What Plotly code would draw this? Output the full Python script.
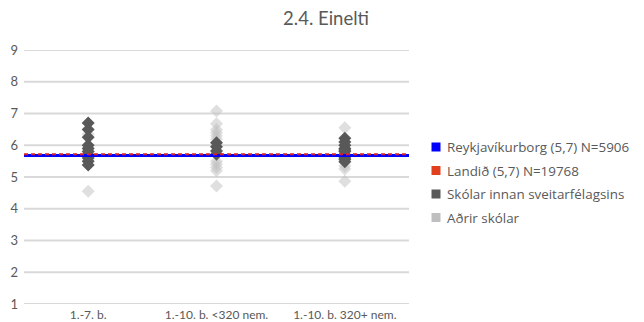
import plotly.graph_objects as go

categories = ["1.-7. b.", "1.-10. b. <320 nem.", "1.-10. b. 320+ nem."]

# Skólar innan sveitarfélagsins (dark grey)
own_cat = [0]*10 + [1]*4 + [2]*11
own_val = [6.7, 6.5, 6.25, 6.0, 5.9, 5.8, 5.7, 5.6, 5.5, 5.38,
           6.08, 5.95, 5.82, 5.72,
           6.22, 6.1, 6.0, 5.9, 5.85, 5.8, 5.7, 5.65, 5.6, 5.55, 5.48]

# Aðrir skólar (light grey)
oth_cat = [0]*3 + [1]*11 + [2]*4
oth_val = [4.55, 6.35, 5.8,
           7.08, 6.68, 6.5, 6.4, 6.3, 6.2, 5.5, 5.4, 5.3, 5.2, 4.72,
           6.55, 5.35, 5.25, 4.87]

reykjavik = 5.68
landid = 5.72

legend_names = ["Reykjavíkurborg (5,7) N=5906", "Landið (5,7) N=19768",
                "Skólar innan sveitarfélagsins", "Aðrir skólar"]
legend_colors = ["#0000FF", "#E0401E", "#595959", "#BFBFBF"]

y_ticks = [1, 2, 3, 4, 5, 6, 7, 8, 9]

FONT = "Lato"
TXT = "#595959"

# page body has an 8px margin; figure sized to fit window
W, H = 636, 314
ML, MR, MT, MB = 16, 235, 42, 18
PW = W - ML - MR
PH = H - MT - MB


def px_to_paper(px, py):
    # page pixel -> paper coordinates
    return (px - 8 - ML) / PW, 1 - (py - 8 - MT) / PH


fig = go.Figure()

shapes = []
# horizontal gridlines at the y tick values
for v in y_ticks:
    shapes.append(dict(type="line", xref="paper", yref="y", x0=0, x1=1, y0=v, y1=v,
                       line=dict(color="#D9D9D9", width=2), layer="below"))

fig.add_trace(go.Scatter(x=oth_cat, y=oth_val, mode="markers",
                         marker=dict(symbol="diamond", size=10,
                                     color="rgba(191,191,191,0.5)", line=dict(width=0)),
                         showlegend=False, hoverinfo="y"))
fig.add_trace(go.Scatter(x=own_cat, y=own_val, mode="markers",
                         marker=dict(symbol="diamond", size=10,
                                     color="#595959", line=dict(width=0)),
                         showlegend=False, hoverinfo="y"))
fig.add_trace(go.Scatter(x=[-0.5, 2.5], y=[reykjavik]*2, mode="lines",
                         line=dict(color="#0000FF", width=3), showlegend=False))
fig.add_trace(go.Scatter(x=[-0.5, 2.5], y=[landid]*2, mode="lines",
                         line=dict(color="#D8202A", width=2, dash="4px,3px"), showlegend=False))

# custom legend (squares + text)
leg_y = [147, 170.5, 194, 217.5]
annotations = []
for name, col, py in zip(legend_names, legend_colors, leg_y):
    x0, y0 = px_to_paper(431.5, py - 4.5)
    x1, y1 = px_to_paper(440.5, py + 4.5)
    shapes.append(dict(type="rect", xref="paper", yref="paper", x0=x0, x1=x1, y0=y1, y1=y0,
                       fillcolor=col, line=dict(width=0)))
    tx, ty = px_to_paper(445, py)
    annotations.append(dict(text=name, xref="paper", yref="paper", x=tx, y=ty,
                            xanchor="left", yanchor="middle", showarrow=False,
                            font=dict(size=13.4, color=TXT, family="Open Sans")))

fig.update_layout(
    width=W, height=H,
    margin=dict(l=ML, r=MR, t=MT, b=MB),
    paper_bgcolor="white", plot_bgcolor="white",
    font=dict(family=FONT, color=TXT, size=13),
    title=dict(text="2.4. Einelti", x=(326 - 8) / W, xanchor="center",
               y=1 - (18.5 - 8) / H, yanchor="middle",
               font=dict(size=18.5, color=TXT, family=FONT)),
    showlegend=False,
    shapes=shapes,
    annotations=annotations,
)
fig.update_xaxes(range=[-0.5, 2.5], tickvals=[0, 1, 2], ticktext=categories,
                 showgrid=False, zeroline=False, showline=False, ticks="",
                 tickfont=dict(size=12, color=TXT), automargin=False, ticklabelstandoff=2)
fig.update_yaxes(range=[1, 9], tickvals=y_ticks, showgrid=False,
                 zeroline=False, showline=False, ticks="",
                 tickfont=dict(size=13, color=TXT), automargin=False, ticklabelstandoff=5)

fig.write_html("out.html")
